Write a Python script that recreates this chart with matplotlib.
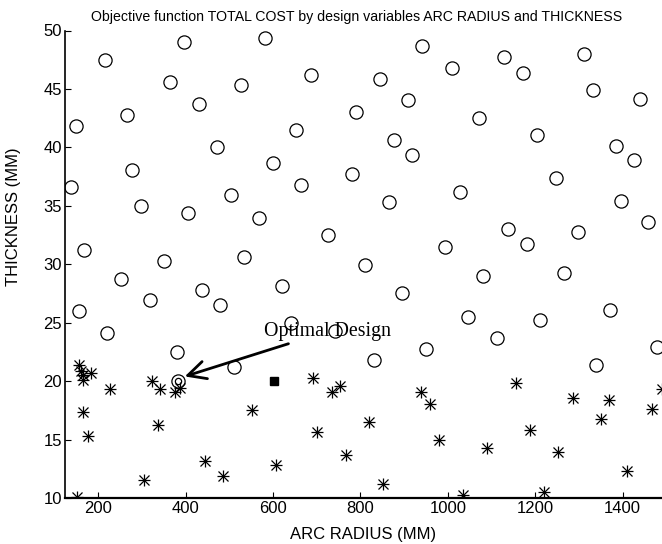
import matplotlib
matplotlib.use("Agg")
import matplotlib.pyplot as plt

# --- data ---
circle_x = [215, 396, 581, 149, 137, 266, 364, 526, 686, 430, 790, 278, 471, 652, 600, 780,
            663, 298, 406, 503, 567, 726, 941, 1009, 1128, 1171, 1312, 845, 909, 1333, 1440,
            1072, 1205, 877, 919, 1385, 1427, 1247, 1028, 866, 1396, 1459, 1137, 1298, 167,
            350, 533, 253, 437, 620, 318, 479, 156, 640, 220, 381, 511, 993, 1180, 810, 1081,
            1266, 896, 1372, 1047, 1211, 1113, 1478, 949, 831, 1339, 742]
circle_y = [47.5, 49.0, 49.35, 41.85, 36.6, 42.8, 45.6, 45.3, 46.2, 43.7, 43.0, 38.1, 40.0, 41.5,
            38.7, 37.7, 36.8, 35.0, 34.4, 35.95, 34.0, 32.5, 48.7, 46.75, 47.7, 46.4, 48.0, 45.85,
            44.05, 44.9, 44.15, 42.5, 41.1, 40.6, 39.35, 40.15, 38.9, 37.4, 36.2, 35.3, 35.45,
            33.6, 33.0, 32.8, 31.24, 30.3, 30.6, 28.7, 27.8, 28.1, 26.9, 26.5, 25.96, 24.97, 24.1,
            22.5, 21.25, 31.5, 31.75, 29.95, 29.0, 29.25, 27.5, 26.1, 25.5, 25.2, 23.7, 22.95,
            22.75, 21.85, 21.4, 24.3]

star_x = [156, 161, 166, 184, 166, 227, 324, 341, 375, 388, 692, 734, 753, 166, 553, 938, 959,
          1156, 1287, 1369, 1466, 1489, 820, 177, 337, 152, 305, 444, 486, 607, 701, 767, 851,
          980, 1089, 1034, 1188, 1253, 1220, 1350, 1411]
star_y = [21.4, 20.9, 20.5, 20.7, 20.1, 19.35, 20.0, 19.3, 19.05, 19.45, 20.27, 19.1, 19.6, 17.4,
          17.55, 19.05, 18.07, 19.85, 18.55, 18.35, 17.6, 19.35, 16.5, 15.33, 16.27, 10.08, 11.57,
          13.13, 11.85, 12.8, 15.65, 13.65, 11.2, 14.93, 14.28, 10.28, 15.78, 13.9, 10.5, 16.75,
          12.35]

optimal_x, optimal_y = 381.5, 20.0
square_x, square_y = 603, 20.0

x_ticks = [200, 400, 600, 800, 1000, 1200, 1400]
y_ticks = [10, 15, 20, 25, 30, 35, 40, 45, 50]

title = "Objective function TOTAL COST by design variables ARC RADIUS and THICKNESS"
xlabel = "ARC RADIUS (MM)"
ylabel = "THICKNESS (MM)"
annot = "Optimal Design"

plt.rcParams['font.family'] = ['Liberation Sans', 'DejaVu Sans']

fig = plt.figure(figsize=(6.62, 5.44), dpi=100)
ax = fig.add_axes([65/662, 1-498/544, 1-65/662, (498-30.5)/544])

ax.plot(circle_x, circle_y, linestyle='none', marker='o', ms=9.5, mfc='none', mec='black', mew=0.9)
ax.plot(star_x, star_y, linestyle='none', marker='+', ms=9, mec='black', mew=0.9)
ax.plot(star_x, star_y, linestyle='none', marker='x', ms=7, mec='black', mew=0.9)

ax.plot([optimal_x], [optimal_y], marker='o', ms=9.5, mfc='none', mec='black', mew=0.9)
ax.plot([optimal_x], [optimal_y], marker='o', ms=4.5, mfc='none', mec='black', mew=0.9)
ax.plot([square_x], [square_y], marker='s', ms=6, mfc='black', mec='black')

ax.annotate(annot, xy=(398, 20.4), xytext=(579, 24.25), fontsize=14.3,
            family=['Liberation Serif', 'DejaVu Serif'], va='center', ha='left',
            arrowprops=dict(arrowstyle='->,head_length=0.9,head_width=0.45', color='black',
                            lw=2, shrinkA=0, shrinkB=0))

ax.set_xlim(124, 1490)
ax.set_ylim(10, 50)
ax.set_xticks(x_ticks)
ax.set_yticks(y_ticks)
ax.tick_params(direction='in', length=4, labelsize=12, pad=2)
ax.spines['top'].set_visible(False)
ax.spines['right'].set_visible(False)
ax.spines['left'].set_linewidth(1.2)
ax.spines['bottom'].set_linewidth(1.6)

ax.set_xlabel(xlabel, fontsize=12)
ax.set_ylabel(ylabel, fontsize=12)
ax.xaxis.set_label_coords((363.5-65)/597, -(527-498)/467.5)
ax.yaxis.set_label_coords((21-65)/597, (498-217)/467.5)
fig.text(357/662, 1-17/544, title, ha='center', va='center', fontsize=10.2)

fig.savefig("out.png", dpi=100)
